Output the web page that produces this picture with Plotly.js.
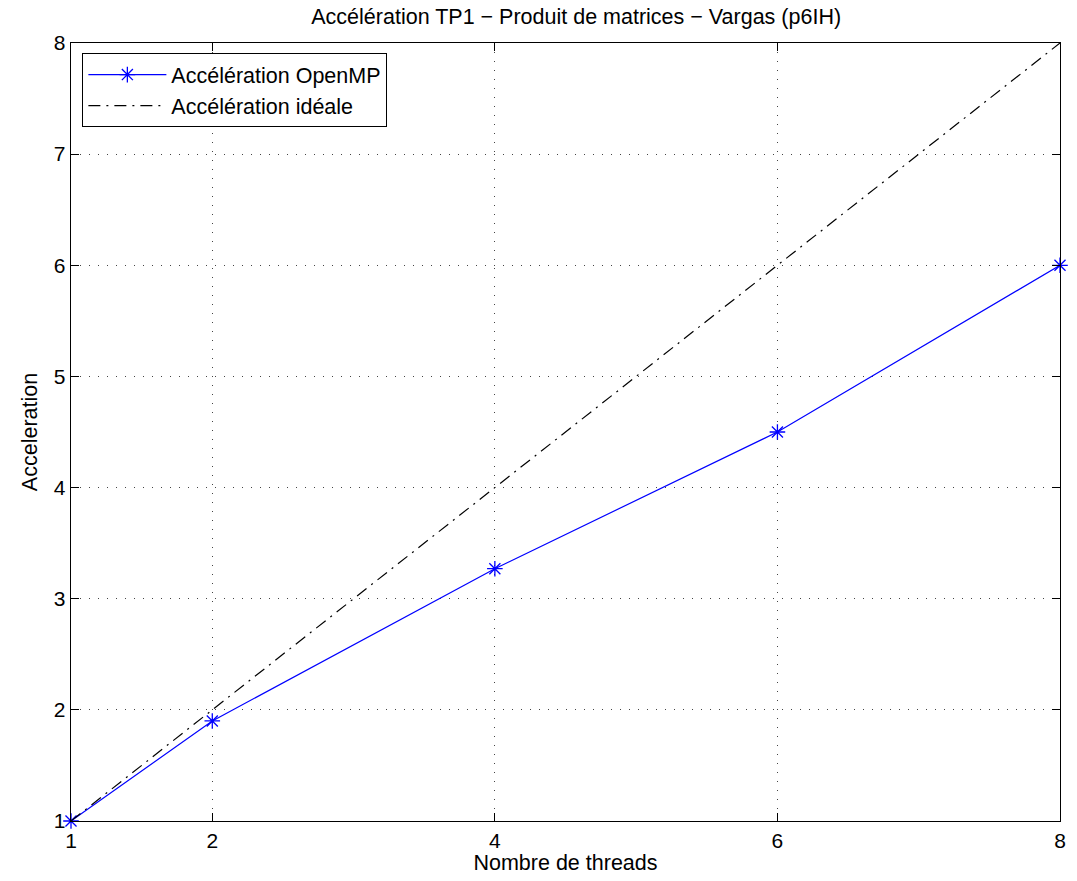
<!DOCTYPE html>
<html>
<head>
<meta charset="utf-8">
<script src="https://cdn.plot.ly/plotly-3.0.1.min.js"></script>
<style>html,body{margin:0;padding:0;background:#fff;}#chart{width:1077px;height:881px;}</style>
</head>
<body>
<div id="chart"></div>
<script>
const threads = [1, 2, 4, 6, 8];
const openmpSpeedup = [1, 1.9, 3.27, 4.5, 6];
const idealSpeedup = [1, 2, 4, 6, 8];
const xTicks = [1, 2, 4, 6, 8];
const yTicks = [1, 2, 3, 4, 5, 6, 7, 8];

const font = "Liberation Sans, Arial, Helvetica, sans-serif";

const data = [
  {
    x: threads, y: openmpSpeedup, name: "Accélération OpenMP",
    type: "scatter", mode: "lines+markers",
    line: {color: "#0000ff", width: 1.2},
    marker: {symbol: "asterisk-open", size: 13, color: "#0000ff", line: {color: "#0000ff", width: 1.3}},
    cliponaxis: false
  },
  {
    x: threads, y: idealSpeedup, name: "Accélération idéale",
    type: "scatter", mode: "lines",
    line: {color: "#000000", width: 1.2, dash: "12px,6px,2px,6px"}
  }
];

const axisCommon = {
  showline: true, linecolor: "#000", linewidth: 1.3, mirror: "ticks",
  ticks: "inside", ticklen: 8, tickcolor: "#000", tickwidth: 1,
  showgrid: true, gridcolor: "#444", griddash: "1px,8px", gridwidth: 1,
  zeroline: false, tickfont: {family: font, size: 21, color: "#000"}
};

const layout = {
  width: 1077, height: 881,
  margin: {l: 71, r: 17, t: 43, b: 60},
  paper_bgcolor: "#fff", plot_bgcolor: "#fff",
  title: {text: "Accélération TP1 − Produit de matrices − Vargas (p6IH)", font: {family: font, size: 21.5, color: "#000"}, x: 0.535, xanchor: "center", y: 0.981, yanchor: "middle"},
  xaxis: Object.assign({}, axisCommon, {
    range: [1, 8], tickvals: xTicks, ticktext: xTicks.map(String),
    title: {text: "Nombre de threads", font: {family: font, size: 21.5, color: "#000"}, standoff: 2}
  }),
  yaxis: Object.assign({}, axisCommon, {
    range: [1, 8], tickvals: yTicks, ticktext: yTicks.map(String),
    title: {text: "Acceleration", font: {family: font, size: 21.5, color: "#000"}, standoff: 10}
  }),
  legend: {
    x: 0.0115, y: 0.987, xanchor: "left", yanchor: "top",
    bgcolor: "#fff", bordercolor: "#000", borderwidth: 1,
    font: {family: font, size: 21.5, color: "#000"},
    itemwidth: 78,
    tracegroupgap: 0
  },
  showlegend: true
};

Plotly.newPlot("chart", data, layout, {displayModeBar: false, staticPlot: true});
</script>
</body>
</html>
